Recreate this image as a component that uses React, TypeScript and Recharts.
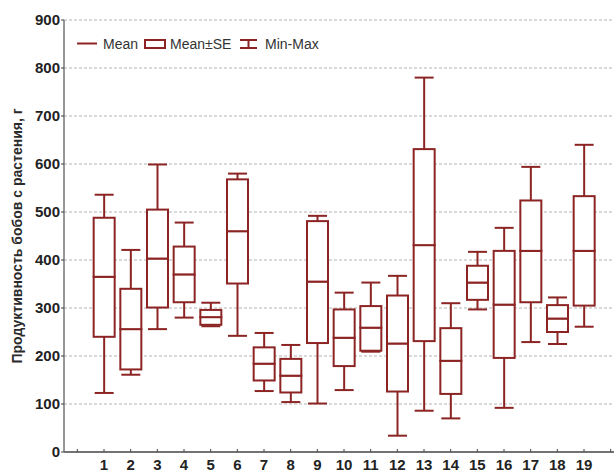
import React from "react";
import { ComposedChart, Bar, XAxis, YAxis, CartesianGrid } from "recharts";

const categories = [1, 2, 3, 4, 5, 6, 7, 8, 9, 10, 11, 12, 13, 14, 15, 16, 17, 18, 19];
const minValues = [123, 161, 256, 280, 262, 242, 127, 104, 101, 129, 209, 34, 86, 70, 297, 92, 229, 225, 261];
const seLow = [240, 172, 301, 312, 265, 351, 149, 124, 227, 179, 211, 126, 231, 121, 317, 196, 312, 250, 305];
const means = [365, 256, 403, 370, 281, 460, 184, 159, 355, 238, 259, 226, 431, 190, 353, 307, 419, 278, 419];
const seHigh = [488, 340, 505, 428, 296, 568, 218, 194, 481, 297, 304, 326, 631, 258, 388, 419, 524, 306, 533];
const maxValues = [536, 421, 599, 478, 311, 580, 248, 223, 492, 332, 353, 367, 780, 310, 417, 467, 594, 322, 640];

const xTicks = [0, 1, 2, 3, 4, 5, 6, 7, 8, 9, 10, 11, 12, 13, 14, 15, 16, 17, 18, 19, 20];
const yTicks = [0, 100, 200, 300, 400, 500, 600, 700, 800, 900];

const RED = "#8c2424";
const AXIS = "#737373";

// stacked segments: min -> seLow -> mean -> seHigh -> max
const data = categories.map((c, i) => ({
  cat: c,
  base: minValues[i],
  lowWhisker: seLow[i] - minValues[i],
  boxLow: means[i] - seLow[i],
  boxHigh: seHigh[i] - means[i],
  highWhisker: maxValues[i] - seHigh[i],
}));

const CAP = 19;

function whisker(capAt: "top" | "bottom") {
  return (props: any) => {
    const { x, y, width, height } = props;
    const cx = x + width / 2;
    const capY = capAt === "top" ? y : y + height;
    return (
      <g>
        <line x1={cx} x2={cx} y1={y} y2={y + height} stroke={RED} strokeWidth={2} />
        <line x1={cx - CAP / 2} x2={cx + CAP / 2} y1={capY} y2={capY} stroke={RED} strokeWidth={2} />
      </g>
    );
  };
}

function BoxShape(props: any) {
  const { x, y, width, height } = props;
  return <rect x={x} y={y} width={width} height={height} fill="#fff" stroke={RED} strokeWidth={2} />;
}

function YLabel(props: any) {
  const vb = props.viewBox || { x: 0, y: 20, width: 64, height: 432 };
  const cx = vb.x + 17;
  const cy = vb.y + vb.height / 2;
  return (
    <text
      x={cx}
      y={cy}
      transform={`rotate(-90 ${cx} ${cy})`}
      textAnchor="middle"
      dominantBaseline="central"
      fontSize={14}
      fontWeight="bold"
      fill="#2a2a2a"
    >
      Продуктивность бобов с растения, г
    </text>
  );
}

const legendText: React.CSSProperties = {
  position: "absolute",
  top: 35,
  fontSize: 14,
  color: "#333",
  lineHeight: "18px",
};

export default function App() {
  return (
    <div
      style={{
        position: "absolute",
        left: 0,
        top: 0,
        width: 614,
        height: 473,
        background: "#fff",
        fontFamily: "'Liberation Sans', Arial, sans-serif",
      }}
    >
      <ComposedChart
        width={614}
        height={473}
        data={data}
        margin={{ top: 20, right: 0, bottom: 0, left: 0 }}
      >
        <CartesianGrid
          horizontal
          vertical={false}
          stroke="#cdcdcd"
          strokeWidth={1.5}
          strokeDasharray="3 2"
          xAxisId="bottom"
        />
        <XAxis
          xAxisId="bottom"
          dataKey="cat"
          type="number"
          domain={[-0.5, 20.125]}
          ticks={xTicks}
          interval={0}
          tickFormatter={(v: number) => (v >= 1 && v <= 19 ? String(v) : "")}
          height={21}
          stroke={AXIS}
          axisLine={{ stroke: AXIS, strokeWidth: 2 }}
          tickLine={{ stroke: "#444" }}
          tickSize={-3}
          tickMargin={10}
          tick={{ fill: "#222", fontSize: 15, fontWeight: "bold" }}
        />
        <XAxis
          xAxisId="top"
          orientation="top"
          dataKey="cat"
          type="number"
          domain={[-0.5, 20.125]}
          ticks={xTicks}
          interval={0}
          height={0}
          axisLine={{ stroke: AXIS, strokeWidth: 2 }}
          tickLine={{ stroke: "#444" }}
          tickSize={-3}
          tick={false}
        />
        <YAxis
          type="number"
          domain={[0, 900]}
          ticks={yTicks}
          interval={0}
          width={64}
          axisLine={{ stroke: AXIS, strokeWidth: 1.5 }}
          tickLine={{ stroke: "#444" }}
          tickSize={3}
          tickMargin={1}
          tick={{ fill: "#222", fontSize: 15, fontWeight: "bold" }}
          label={{ content: YLabel }}
        />
        <Bar xAxisId="bottom" dataKey="base" stackId="b" barSize={21} fill="none" shape={() => <g />} isAnimationActive={false} />
        <Bar xAxisId="bottom" dataKey="lowWhisker" stackId="b" barSize={21} shape={whisker("bottom")} isAnimationActive={false} />
        <Bar xAxisId="bottom" dataKey="boxLow" stackId="b" barSize={21} shape={BoxShape} isAnimationActive={false} />
        <Bar xAxisId="bottom" dataKey="boxHigh" stackId="b" barSize={21} shape={BoxShape} isAnimationActive={false} />
        <Bar xAxisId="bottom" dataKey="highWhisker" stackId="b" barSize={21} shape={whisker("top")} isAnimationActive={false} />
      </ComposedChart>

      {/* legend */}
      <svg style={{ position: "absolute", left: 0, top: 0 }} width={614} height={60}>
        <line x1={77} x2={97} y1={43.5} y2={43.5} stroke={RED} strokeWidth={2} />
        <rect x={145} y={40} width={20} height={8} fill="#fff" stroke={RED} strokeWidth={2} />
        <line x1={240} x2={257} y1={40} y2={40} stroke={RED} strokeWidth={2} />
        <line x1={248.5} x2={248.5} y1={40} y2={48} stroke={RED} strokeWidth={2} />
        <line x1={240} x2={257} y1={48} y2={48} stroke={RED} strokeWidth={2} />
      </svg>
      <span style={{ ...legendText, left: 103 }}>Mean</span>
      <span style={{ ...legendText, left: 170 }}>Mean±SE</span>
      <span style={{ ...legendText, left: 265 }}>Min-Max</span>
    </div>
  );
}
